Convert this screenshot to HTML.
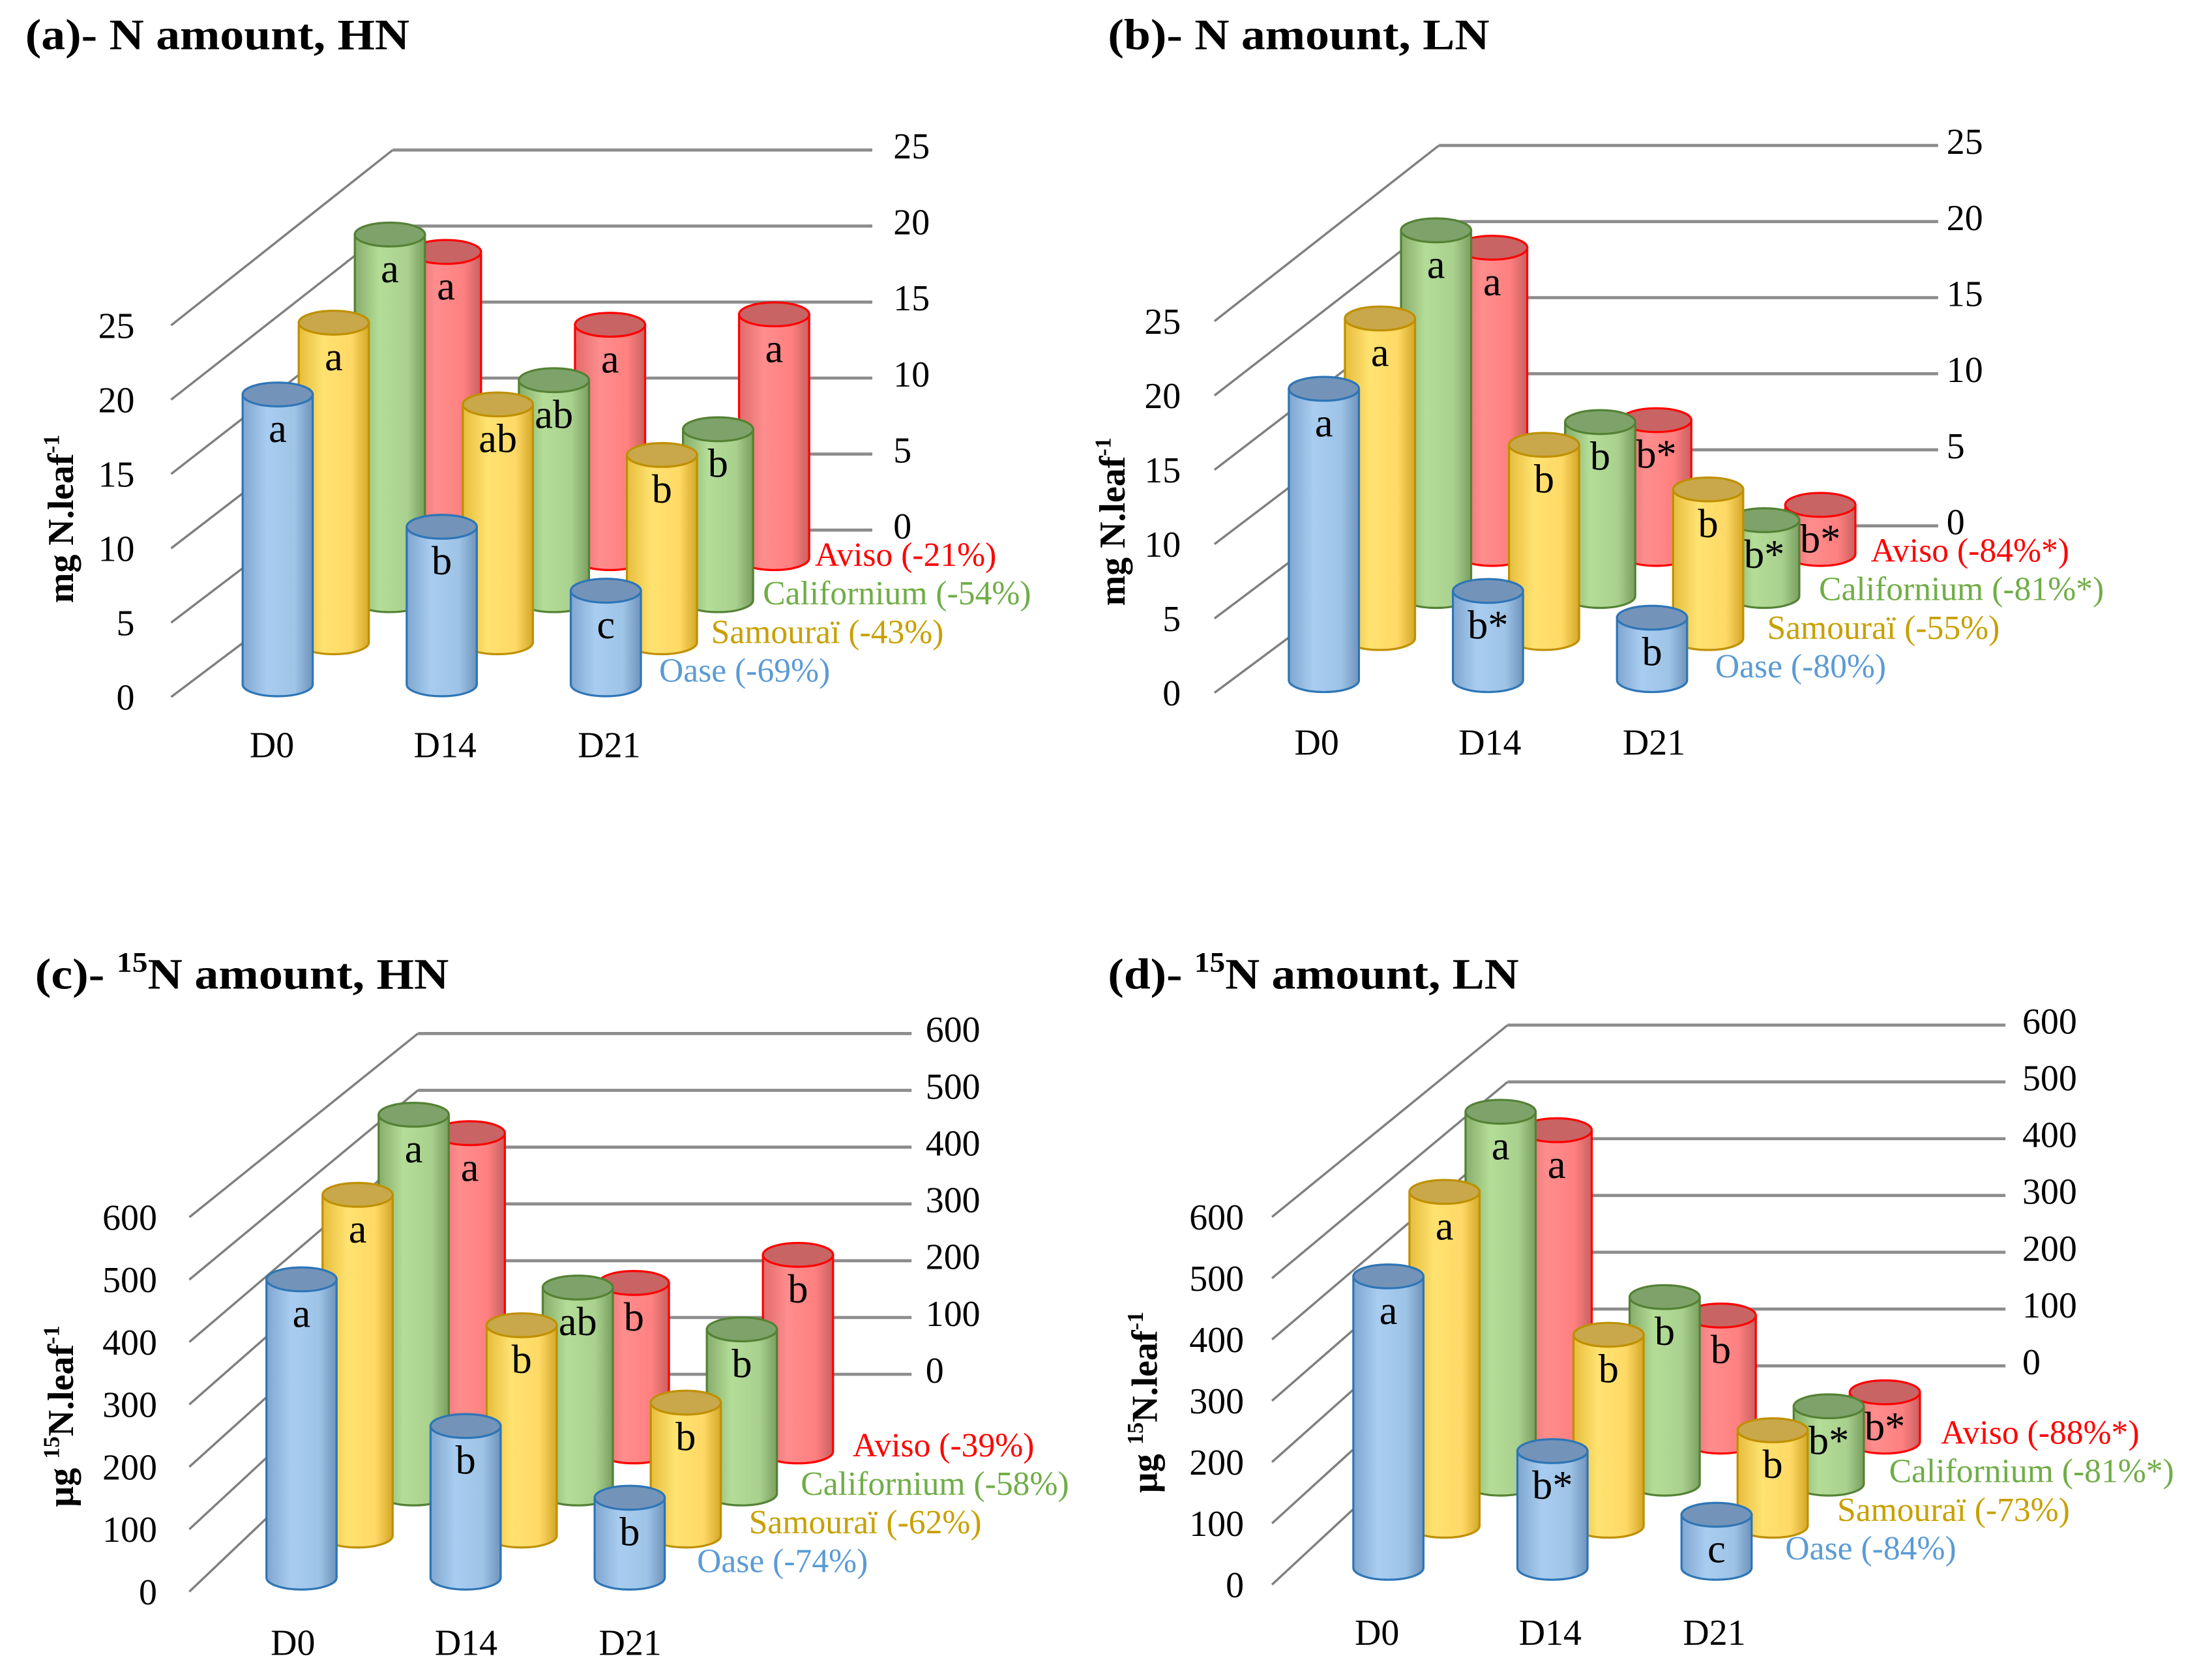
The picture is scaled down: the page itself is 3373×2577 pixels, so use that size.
<!DOCTYPE html>
<html><head><meta charset="utf-8">
<style>
html,body{margin:0;padding:0;background:#fff;}
svg{display:block;}
svg text{font-family:"Liberation Serif","Times New Roman",Times,"DejaVu Serif",serif;}
</style></head>
<body>
<svg id="chart" width="3373" height="2577" viewBox="0 0 1568 1198" preserveAspectRatio="none" xmlns="http://www.w3.org/2000/svg">
<defs>
<linearGradient id="g-blue" x1="0" x2="1"><stop offset="0" stop-color="#7fa6cf"/><stop offset="0.35" stop-color="#a9cdf0"/><stop offset="0.75" stop-color="#9dc3e6"/><stop offset="1" stop-color="#6f93bb"/></linearGradient>
<linearGradient id="g-yellow" x1="0" x2="1"><stop offset="0" stop-color="#e6bd3c"/><stop offset="0.35" stop-color="#ffe270"/><stop offset="0.75" stop-color="#ffd966"/><stop offset="1" stop-color="#d4a828"/></linearGradient>
<linearGradient id="g-green" x1="0" x2="1"><stop offset="0" stop-color="#86ad6a"/><stop offset="0.35" stop-color="#b4dd98"/><stop offset="0.75" stop-color="#a9d18e"/><stop offset="1" stop-color="#7a9f60"/></linearGradient>
<linearGradient id="g-red" x1="0" x2="1"><stop offset="0" stop-color="#e06b6b"/><stop offset="0.35" stop-color="#ff8d8d"/><stop offset="0.75" stop-color="#ff8080"/><stop offset="1" stop-color="#c86060"/></linearGradient>
</defs>
</svg>
<script>
// ---- data ----
const categories = ["D0","D14","D21"];
const seriesNames = ["Oase","Samouraï","Californium","Aviso"];
// panel a (mg N.leaf-1, HN)
const aOase = [19.5, 10.6, 6.3];
const aSamourai = [21.5, 16.0, 12.6];
const aCalifornium = [24.6, 14.8, 11.5];
const aAviso = [20.6, 15.7, 16.4];
const aLetters = [["a","b","c"],["a","ab","b"],["a","ab","b"],["a","a","a"]];
const aPct = ["(-69%)","(-43%)","(-54%)","(-21%)"];
// panel b (mg N.leaf-1, LN)
const bOase = [19.6, 6.0, 4.2];
const bSamourai = [21.5, 13.0, 10.0];
const bCalifornium = [24.6, 11.7, 5.1];
const bAviso = [20.6, 9.0, 3.3];
const bLetters = [["a","b*","b"],["a","b","b"],["a","b","b*"],["a","b*","b*"]];
const bPct = ["(-80%)","(-55%)","(-81%*)","(-84%*)"];
// panel c (µg 15N.leaf-1, HN)
const cOase = [478, 243, 128];
const cSamourai = [546, 337, 213];
const cCalifornium = [607, 330, 263];
const cAviso = [510, 270, 315];
const cLetters = [["a","b","b"],["a","b","b"],["a","ab","b"],["a","b","b"]];
const cPct = ["(-74%)","(-62%)","(-58%)","(-39%)"];
// panel d (µg 15N.leaf-1, LN)
const dOase = [467, 187, 85];
const dSamourai = [535, 306, 153];
const dCalifornium = [596, 299, 124];
const dAviso = [499, 202, 79];
const dLetters = [["a","b*","c"],["a","b","b"],["a","b","b*"],["a","b","b*"]];
const dPct = ["(-84%)","(-73%)","(-81%*)","(-88%*)"];
const ticksN = [0,5,10,15,20,25];
const ticks15N = [0,100,200,300,400,500,600];

const NS="http://www.w3.org/2000/svg";
const svg=document.getElementById('chart');
const fills=["url(#g-blue)","url(#g-yellow)","url(#g-green)","url(#g-red)"];
const strokes=["#2e75b6","#bf9000","#548235","#ff0000"];
const tops=["#7394b8","#c8a84a","#7ea36a","#c86464"];
const legendCols=["#5b9bd5","#c8a000","#70ad47","#ff0000"];
function mk(tag,attrs,parent){const e=document.createElementNS(NS,tag);for(const k in attrs)e.setAttribute(k,attrs[k]);(parent||svg).appendChild(e);return e;}

const panels=[
 {id:"a",title:"(a)- N amount, HN",sup:false,tx:18,ty:35,tw:274,data:[aOase,aSamourai,aCalifornium,aAviso],letters:aLetters,pct:aPct,ticks:ticksN,
  ox:198,oy:488,s:10.6,fx:122,fy:497,fs:10.6,cx:280,by:378,bs:10.84,ex:622,lx:96,rx:637,catx:180,caty:540,
  yt:"mg N.leaf",ytx:52,yty:370,legx:470,legy:486},
 {id:"b",title:"(b)- N amount, LN",sup:false,tx:790,ty:35,tw:272,data:[bOase,bSamourai,bCalifornium,bAviso],letters:bLetters,pct:bPct,ticks:ticksN,
  ox:944,oy:485,s:10.6,fx:866,fy:494,fs:10.6,cx:1026,by:375,bs:10.85,ex:1382,lx:842,rx:1388,catx:925,caty:538,
  yt:"mg N.leaf",ytx:802,yty:372,legx:1223,legy:483},
 {id:"c",title:"amount, HN",pre:"(c)- ",sup:true,tx:25,ty:705,tw:295,data:[cOase,cSamourai,cCalifornium,cAviso],letters:cLetters,pct:cPct,ticks:ticks15N,
  ox:215,oy:1125,s:0.445,fx:135,fy:1135,fs:0.445,cx:298,by:980,bs:0.405,ex:650,lx:112,rx:660,catx:195,caty:1180,
  yt:"N.leaf",ytx:52,yty:1010,legx:497,legy:1121},
 {id:"d",title:"amount, LN",pre:"(d)- ",sup:true,tx:790,ty:705,tw:293,data:[dOase,dSamourai,dCalifornium,dAviso],letters:dLetters,pct:dPct,ticks:ticks15N,
  ox:990,oy:1118,s:0.445,fx:907,fy:1130,fs:0.437,cx:1075,by:974,bs:0.405,ex:1430,lx:887,rx:1442,catx:968,caty:1173,
  yt:"N.leaf",ytx:825,yty:1000,legx:1273,legy:1112}
];
const CAT_DX=117, ROW_DX=40, ROW_DY=-30, R=25, RY=8.5;

panels.forEach(p=>{
 const g=mk('g',{});
 
 
 const t=mk('text',{x:p.tx,y:p.ty,'font-size':31,'font-weight':'bold',textLength:p.tw,lengthAdjust:'spacingAndGlyphs'},g);
 
 
 if(p.sup){
   t.appendChild(document.createTextNode(p.pre));
   const s1=mk('tspan',{'font-size':20,dy:-12},t);s1.textContent="15";
   const s2=mk('tspan',{dy:12},t);s2.textContent="N "+p.title;
 } else t.textContent=p.title;
 const yt=mk('text',{x:0,y:0,'font-size':26,'font-weight':'bold',transform:`translate(${p.ytx},${p.yty}) rotate(-90)`,'text-anchor':'middle'},g);
 
 
 if(p.sup){
   const a=mk('tspan',{},yt);a.textContent="µg ";
   const b=mk('tspan',{'font-size':16,dy:-10},yt);b.textContent="15";
   const c=mk('tspan',{dy:10},yt);c.textContent=p.yt;
 } else yt.appendChild(document.createTextNode(p.yt));
 const sp=mk('tspan',{'font-size':16,dy:-10},yt);sp.textContent="-1";
 p.ticks.forEach(v=>{
   const fy=p.fy-v*p.fs, by=p.by-v*p.bs;
   const d=mk('line',{x1:p.fx,y1:fy,x2:p.cx,y2:by,stroke:'#7f7f7f','stroke-width':1.6},g);
   
   
   const h=mk('line',{x1:p.cx,y1:by,x2:p.ex,y2:by,stroke:'#8c8c8c','stroke-width':2.2},g);
   
   
   const l=mk('text',{x:p.lx,y:fy+9,'font-size':26,'text-anchor':'end'},g);
   
   
   l.textContent=v;
   const r=mk('text',{x:p.rx,y:by+6,'font-size':26},g);
   
   
   r.textContent=v;
 });
 for(let si=3;si>=0;si--){
   p.data[si].forEach((v,ci)=>{
     const cx=p.ox+ci*CAT_DX+si*ROW_DX, by=p.oy+si*ROW_DY, ty=by-v*p.s;
     const bg=mk('g',{},g);
     
     
     mk('path',{d:`M${cx-R},${ty} L${cx-R},${by} A${R},${RY} 0 0 0 ${cx+R},${by} L${cx+R},${ty} Z`,fill:fills[si],stroke:strokes[si],'stroke-width':1.5},bg);
     mk('ellipse',{cx:cx,cy:ty,rx:R,ry:RY,fill:tops[si],stroke:strokes[si],'stroke-width':1.5},bg);
     const lt=mk('text',{x:cx,y:ty+34,'font-size':29,'text-anchor':'middle'},bg);
     
     
     lt.textContent=p.letters[si][ci];
   });
 }
 categories.forEach((c,ci)=>{
   const ct=mk('text',{x:p.catx+ci*CAT_DX-2,y:p.caty,'font-size':26,'text-anchor':'start'},g);
   
   
   ct.textContent=c;
 });
 seriesNames.forEach((n,si)=>{
   const lg=mk('text',{x:p.legx+si*37,y:p.legy-si*27.5,'font-size':24,fill:legendCols[si]},g);
   
   
   lg.textContent=n+" "+p.pct[si];
 });
});
</script>
</body></html>
